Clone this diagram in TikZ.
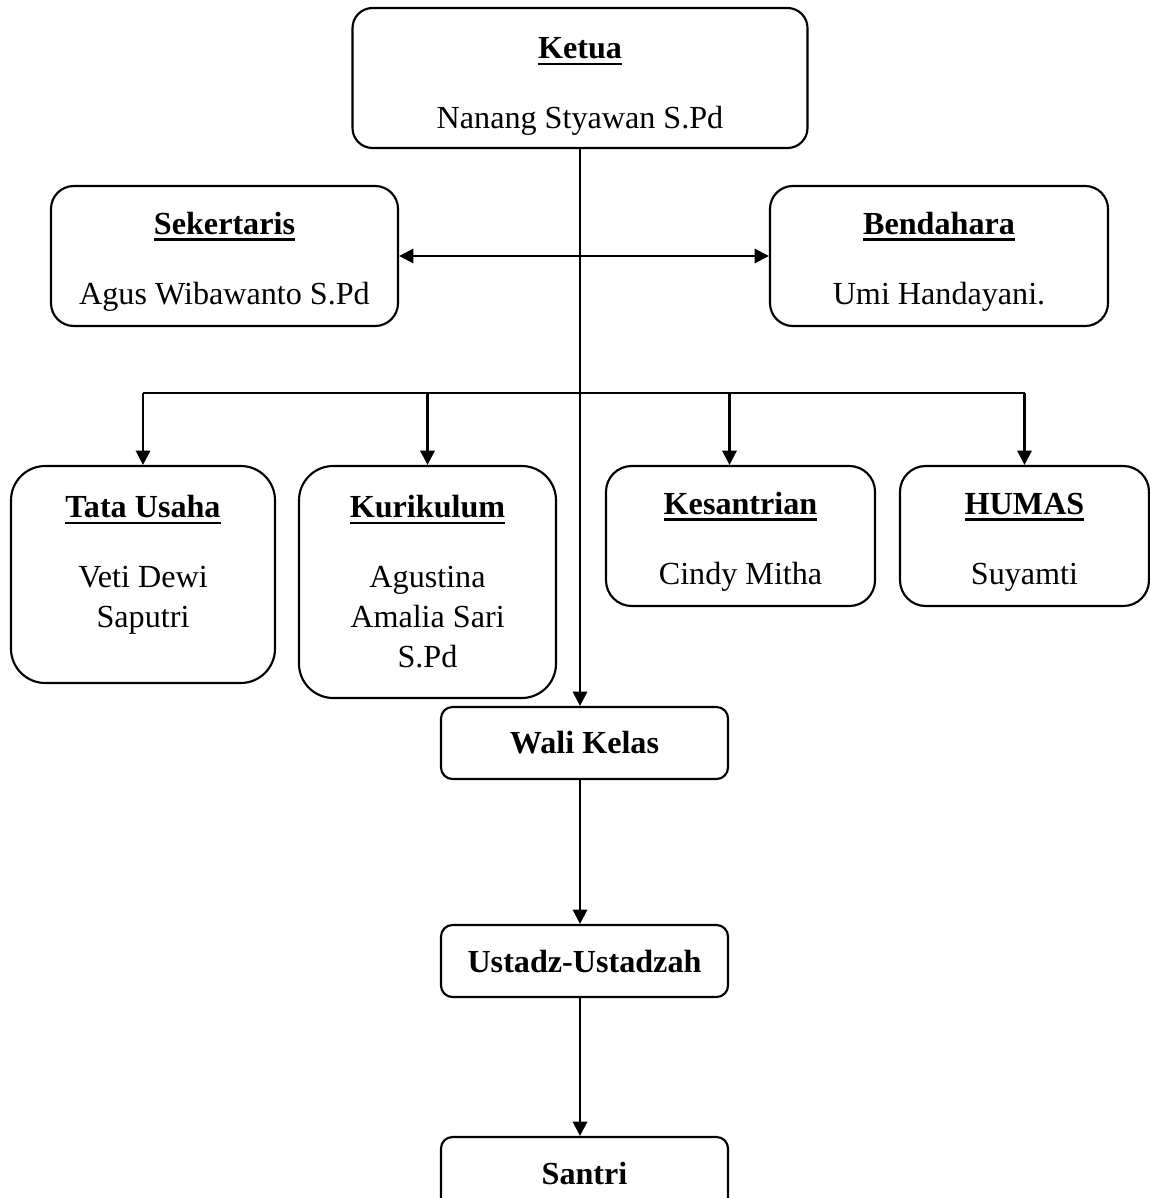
\documentclass[tikz,border=0pt]{standalone}
\usepackage{fontspec}
\setmainfont{Liberation Serif}
\usetikzlibrary{arrows.meta}

\newcommand{\jabatan}[2][12pt]{\rule{0pt}{#1}\textbf{\setbox0\hbox{#2}%
  \rlap{\rule[-2.2pt]{\wd0}{0.9pt}}\box0}}

\tikzset{
  unit/.style={draw,line width=0.75pt,rounded corners=#1,align=center,inner sep=0pt},
  unit/.default=7pt,
  sz/.style 2 args={minimum width=#1*0.35pt,minimum height=#2*0.35pt},
  link/.style={line width=0.8pt}
}

\begin{document}
\begin{tikzpicture}[x=0.35pt,y=-0.35pt,
    font=\fontsize{11.25pt}{14pt}\selectfont,
    >={Triangle[length=5pt,width=5pt]}]
  \useasboundingbox (0,0) rectangle (1150,1198);

  % pimpinan
  \node[unit,sz={455}{140}] (ketua) at (580,78)
    {\jabatan[13.5pt]{Ketua}\\[10.5pt]Nanang Styawan S.Pd};
  \node[unit=8pt,sz={347}{140}] (sek) at (224.5,256)
    {\jabatan{Sekertaris}\\[10.5pt]Agus Wibawanto S.Pd};
  \node[unit=8pt,sz={338}{140}] (ben) at (939,256)
    {\jabatan{Bendahara}\\[10.5pt]Umi Handayani.};

  % bidang
  \node[unit=12pt,sz={264}{217}] (tu) at (143,574.5)
    {\jabatan[0pt]{Tata Usaha}\\[10.5pt]Veti Dewi\\Saputri\\[-5pt]};
  \node[unit=12pt,sz={257}{232}] (kuri) at (427.5,582)
    {\jabatan[0pt]{Kurikulum}\\[10.5pt]Agustina\\Amalia Sari\\S.Pd};
  \node[unit=9pt,sz={269}{140}] (kes) at (740.5,536)
    {\jabatan{Kesantrian}\\[10.5pt]Cindy Mitha};
  \node[unit=9pt,sz={249}{140}] (humas) at (1024.5,536)
    {\jabatan{HUMAS}\\[10.5pt]Suyamti};

  % jalur kelas
  \node[unit=4pt,sz={287}{72}] (wali) at (584.5,743) {\textbf{Wali Kelas}};
  \node[unit=4pt,sz={287}{72}] (ustadz) at (584.5,961) {\textbf{Ustadz-Ustadzah}};
  \node[unit=4pt,sz={287}{73}] (santri) at (584.5,1173.5) {\textbf{Santri}};

  \coordinate (bus) at (580,393);
  \coordinate (kesdrop) at ([xshift=-3.85pt]kes.north);

  \draw[link,->] (ketua.south) -- (ketua.south |- wali.north);
  \draw[link,<->] (sek.east) -- (ben.west);
  \draw[link] (tu.north |- bus) -- (humas.north |- bus);
  \foreach \n in {tu,kuri,humas}
    \draw[link,->] (\n.north |- bus) -- (\n.north);
  \draw[link,->] (kesdrop |- bus) -- (kesdrop);
  \draw[link,->] (ketua.south |- wali.south) -- (ketua.south |- ustadz.north);
  \draw[link,->] (ketua.south |- ustadz.south) -- (ketua.south |- santri.north);
\end{tikzpicture}
\end{document}
